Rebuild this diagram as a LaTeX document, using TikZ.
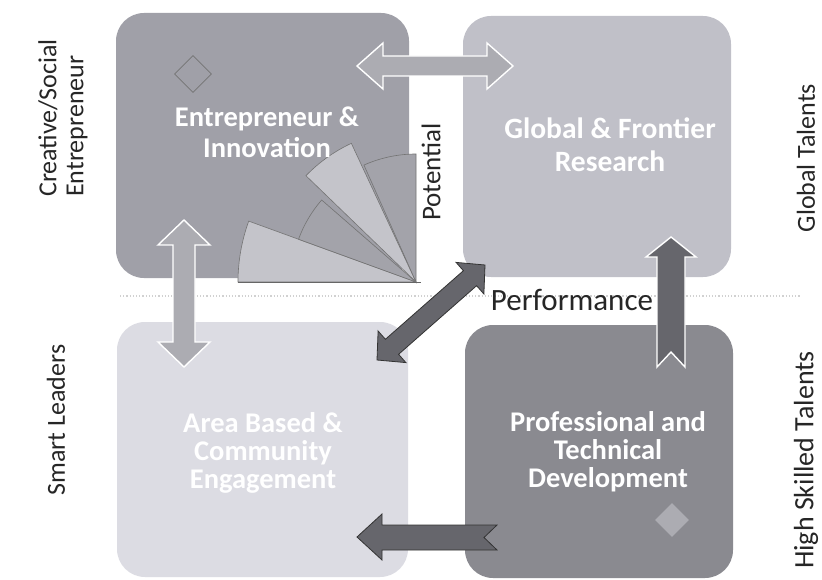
\documentclass[tikz,border=0pt]{standalone}
\usepackage{fontspec}
\setmainfont{Carlito}
\definecolor{tlc}{RGB}{160,160,168}
\definecolor{trc}{RGB}{192,192,200}
\definecolor{blc}{RGB}{220,220,227}
\definecolor{brc}{RGB}{138,138,144}
\definecolor{wlight}{RGB}{196,196,202}
\definecolor{wmid}{RGB}{163,163,170}
\definecolor{arlight}{RGB}{172,172,178}
\definecolor{ardark}{RGB}{102,102,108}
\begin{document}
\begin{tikzpicture}[x=1pt,y=-1pt,
  box/.style={rounded corners=28pt, inner sep=0pt, draw=none},
  boxtext/.style={text=white, font=\bfseries\fontsize{28.5}{31}\selectfont, align=center, inner sep=0pt},
  sidelabel/.style={text=black!85, font=\fontsize{26}{27}\selectfont, inner sep=0pt},
  wedge/.style={draw=black!55, line width=0.6pt},
  lightarrow/.style={fill=arlight, draw=white, line width=1.4pt, line join=miter},
  darkarrow/.style={fill=ardark, draw=black!80, line width=0.8pt, line join=miter},
  darkarroww/.style={fill=ardark, draw=white, line width=1.4pt, line join=miter}]
\useasboundingbox[fill=white] (0,0) rectangle (822,580);
% faint axis line
\draw[black!18, dotted, line width=1.2pt] (120,296) -- (800,296);
% boxes
\node[box, fill=tlc, minimum width=293pt, minimum height=265pt] (tl) at (262.5,145.5) {};
\node[box, fill=trc, minimum width=268pt, minimum height=261pt] (tr) at (597,146.5) {};
\node[box, fill=blc, minimum width=291pt, minimum height=255pt] (bl) at (262.5,449.5) {};
\node[box, fill=brc, minimum width=268pt, minimum height=253pt] (br) at (599,451.5) {};
% fan
\coordinate (O) at (416,282);
\draw[wedge, fill=wlight] (O) -- ++(180:178pt) arc[start angle=180, end angle=160, radius=178pt] -- cycle;
\draw[wedge, fill=wmid] (O) -- ++(160:125pt) arc[start angle=160, end angle=139, radius=125pt] -- cycle;
\draw[wedge, fill=wlight] (O) -- ++(136:153pt) arc[start angle=136, end angle=115, radius=153pt] -- cycle;
\draw[wedge, fill=wmid] (O) -- ++(114:128pt) arc[start angle=114, end angle=90, radius=128pt] -- cycle;
\draw[black!60, line width=0.8pt] (238,282) -- (421,282);
% diamonds
\node[draw=black!55, line width=0.6pt, shape=rectangle, rotate=45, inner sep=0pt, minimum size=26pt] (d1) at (193,74) {};
\node[fill=arlight, minimum size=24pt, rotate=45, inner sep=0pt] (d2) at (672,520) {};
% arrows
\draw[lightarrow] (357,66) -- (383,43) -- (383,56) -- (487,56) -- (487,43) -- (513,66) -- (487,89) -- (487,76) -- (383,76) -- (383,89) -- cycle;
\draw[lightarrow] (184,220) -- (210,245) -- (195,245) -- (195,342) -- (210,342) -- (184,367) -- (158,342) -- (173,342) -- (173,245) -- (158,245) -- cycle;
\draw[darkarrow] (377,360) -- (378.1,331.0) -- (385.4,339.3) -- (463.4,270.7) -- (456.1,262.4) -- (485,265) -- (483.9,294.0) -- (476.6,285.7) -- (398.6,354.3) -- (405.9,362.6) -- cycle;
\draw[darkarroww] (671,237) -- (696,257) -- (685,257) -- (685,367) -- (671,352) -- (657,367) -- (657,257) -- (646,257) -- cycle;
\draw[darkarrow] (357,537) -- (382,514) -- (382,525) -- (497,525) -- (484,537.5) -- (497,550) -- (382,550) -- (382,560) -- cycle;
% box texts
\node[boxtext] (tlt) at (267,132) {Entrepreneur \&\\Innovation};
\node[boxtext, font=\bfseries\fontsize{29.5}{33}\selectfont] (trt) at (610,145) {Global \& Frontier\\Research};
\node[boxtext, font=\bfseries\fontsize{28.5}{28}\selectfont] (blt) at (263,453) {Area Based \&\\Community\\Engagement};
\node[boxtext, font=\bfseries\fontsize{28.5}{28}\selectfont] (brt) at (608,452) {Professional and\\Technical\\Development};
% axis labels
\node[sidelabel, font=\fontsize{27}{30}\selectfont, rotate=90] (pot) at (431,172) {Potential};
\node[sidelabel, font=\fontsize{31}{33}\selectfont] (perf) at (572,300) {Performance};
% side labels
\node[sidelabel, rotate=90, align=left, anchor=west] (cse) at (63,197) {Creative/Social\\Entrepreneur};
\node[sidelabel, rotate=90] (sl) at (56,420) {Smart Leaders};
\node[sidelabel, rotate=90] (gt) at (806,158) {Global Talents};
\node[sidelabel, font=\fontsize{28}{30}\selectfont, rotate=90] (hst) at (806,460) {High Skilled Talents};
\end{tikzpicture}
\end{document}
